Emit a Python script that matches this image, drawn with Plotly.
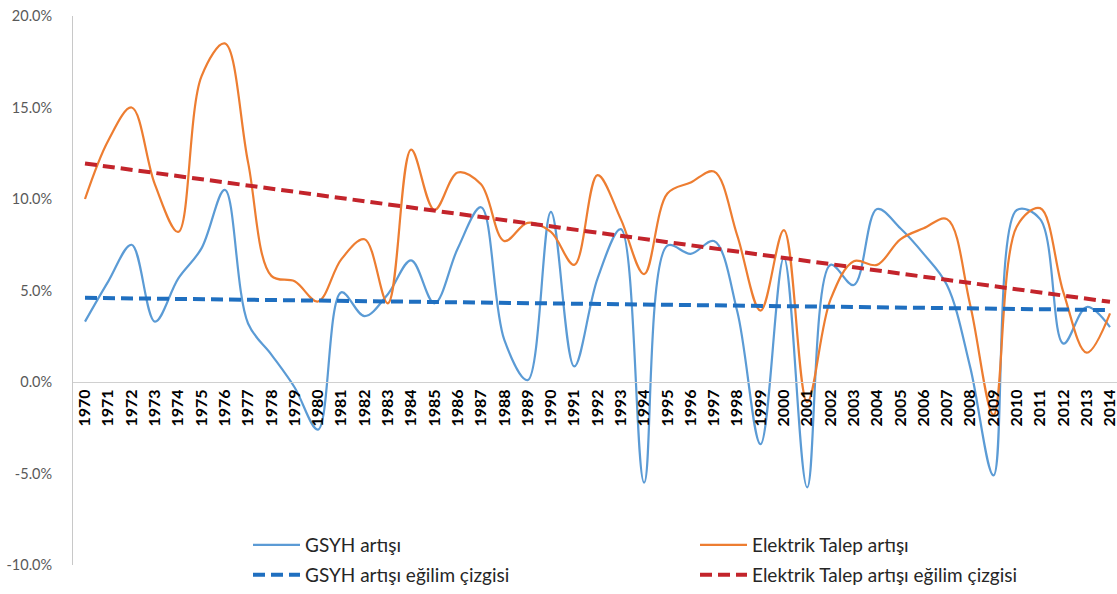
import plotly.graph_objects as go

# Yıllar ve büyüme oranları (%)
years = list(range(1970, 2015))

gsyh = [3.3, 5.5, 7.5, 3.3, 5.65, 7.3, 10.5, 3.2, 1.5, -0.3,
        -2.6, 4.9, 3.6, 4.8, 6.65, 4.3, 7.3, 9.55, 2.3, 0.1,
        9.3, 0.85, 5.65, 8.35, -5.5, 7.45, 7.0, 7.7, 3.85, -3.4,
        6.8, -5.76, 6.4, 5.3, 9.45, 8.4, 7.0, 5.3, 0.8, -5.1,
        9.4, 8.9, 2.1, 4.1, 3.0]

elektrik = [10.0, 13.2, 15.0, 10.8, 8.2, 16.7, 18.5, 12.0, 5.8, 5.5,
            4.4, 6.7, 7.8, 4.3, 12.7, 9.4, 11.45, 10.8, 7.7, 8.7,
            8.2, 6.4, 11.3, 8.9, 5.9, 10.3, 10.9, 11.5, 8.0, 3.9,
            8.3, -1.1, 4.5, 6.6, 6.4, 7.8, 8.4, 8.9, 4.2, -1.8,
            8.5, 9.5, 4.9, 1.6, 3.75]

# Doğrusal eğilim çizgilerinin uç değerleri (1970 ve 2014)
trend_years = [1970, 2014]
gsyh_trend = [4.6, 3.93]
elektrik_trend = [11.94, 4.38]

y_ticks = [-10, -5, 0, 5, 10, 15, 20]
y_labels = ["-10.0%", "-5.0%", "0.0%", "5.0%", "10.0%", "15.0%", "20.0%"]
x_labels = [str(y) for y in years]

FONT = "Lato"

fig = go.Figure()

fig.add_trace(go.Scatter(
    x=years, y=gsyh, mode="lines", name="GSYH artışı",
    line=dict(color="#5B9BD5", width=2.2, shape="spline", smoothing=1.0),
    legend="legend"))
fig.add_trace(go.Scatter(
    x=years, y=elektrik, mode="lines", name="Elektrik Talep artışı",
    line=dict(color="#ED7D31", width=2.2, shape="spline", smoothing=1.0),
    legend="legend2"))
fig.add_trace(go.Scatter(
    x=trend_years, y=gsyh_trend, mode="lines", name="GSYH artışı eğilim çizgisi",
    line=dict(color="#1F6FC0", width=4, dash="12px,6px"),
    legend="legend3"))
fig.add_trace(go.Scatter(
    x=trend_years, y=elektrik_trend, mode="lines",
    name="Elektrik Talep artışı eğilim çizgisi",
    line=dict(color="#C3242B", width=4, dash="12px,6px"),
    legend="legend4"))

W, H = 1117, 594
L, R, T, B = 73, 0, 16, 26
pw, ph = W - L - R, H - T - B


def px_x(px):
    return (px - L) / pw


def px_y(py):
    return (H - B - py) / ph


leg_font = dict(family=FONT, size=19, color="#262626")
legend_common = dict(orientation="v", xanchor="left", yanchor="middle",
                     bgcolor="rgba(0,0,0,0)", borderwidth=0, font=leg_font,
                     itemwidth=47)

fig.update_layout(
    width=W, height=H,
    margin=dict(l=L, r=R, t=T, b=B),
    paper_bgcolor="white", plot_bgcolor="white",
    font=dict(family=FONT),
    showlegend=True,
    legend=dict(x=px_x(248), y=px_y(548), **legend_common),
    legend2=dict(x=px_x(695), y=px_y(548), **legend_common),
    legend3=dict(x=px_x(248), y=px_y(578), **legend_common),
    legend4=dict(x=px_x(695), y=px_y(578), **legend_common),
    xaxis=dict(
        range=[1969.485, 2014.30],
        tickmode="array", tickvals=years, ticktext=x_labels,
        tickangle=-90, ticklabeloverflow="allow",
        tickfont=dict(family=FONT, size=16, color="#000000", weight="bold"),
        showgrid=False, zeroline=False,
        showline=True, linecolor="#D0D0D0", linewidth=1,
        ticks="",
        anchor="free", position=1 / 3,
    ),
    yaxis=dict(
        range=[-10, 20],
        tickmode="array", tickvals=y_ticks, ticktext=y_labels,
        tickfont=dict(family=FONT, size=14.5, color="#595959"),
        showgrid=False, zeroline=False,
        showline=True, linecolor="#C8C8C8", linewidth=1,
        ticks="", ticklabelstandoff=17,
    ),
)

fig.write_html("out.html")
